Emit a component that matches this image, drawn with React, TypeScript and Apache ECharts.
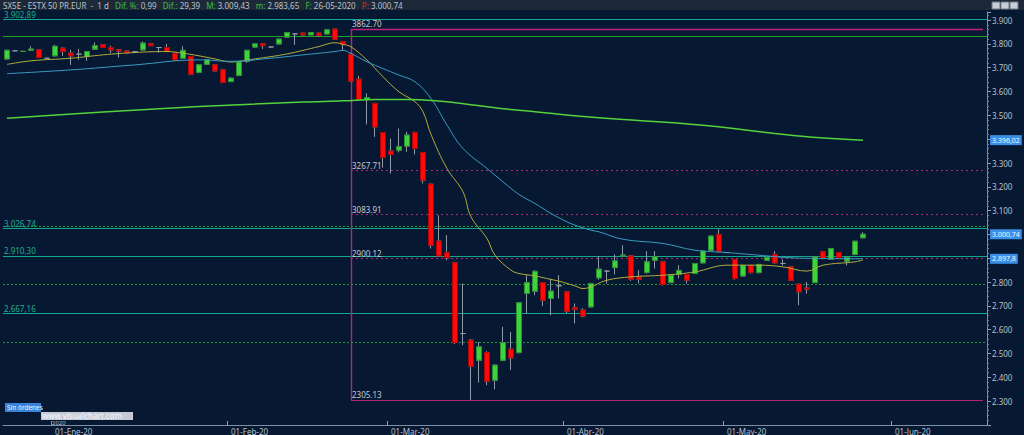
import React, { useEffect, useRef } from "react";
import * as echarts from "echarts";

// ---- trading days (day numbers per month) ----
const DAYS_DIC19 = [20, 23, 24, 27, 30, 31];
const DAYS_ENE20 = [2, 3, 6, 7, 8, 9, 10, 13, 14, 15, 16, 17, 20, 21, 22, 23, 24, 27, 28, 29, 30, 31];
const DAYS_FEB20 = [3, 4, 5, 6, 7, 10, 11, 12, 13, 14, 17, 18, 19, 20, 21, 24, 25, 26, 27, 28];
const DAYS_MAR20 = [2, 3, 4, 5, 6, 9, 10, 11, 12, 13, 16, 17, 18, 19, 20, 23, 24, 25, 26, 27, 30, 31];
const DAYS_ABR20 = [1, 2, 3, 6, 7, 8, 9, 14, 15, 16, 17, 20, 21, 22, 23, 24, 27, 28, 29, 30];
const DAYS_MAY20 = [1, 4, 5, 6, 7, 8, 11, 12, 13, 14, 15, 18, 19, 20, 21, 22, 25, 26, 27, 28, 29];
const DAYS_JUN20 = [1, 2, 3, 4, 5, 8, 9, 10, 11, 12, 15, 16];

const MONTH_LABELS = ["01-Ene-20", "01-Feb-20", "01-Mar-20", "01-Abr-20", "01-May-20", "01-Jun-20"];

// ---- OHLC (SX5E daily) ----
const OPEN = [3737, 3771, 3768, 3773, 3775, 3740, 3750, 3782, 3761, 3757, 3747, 3778, 3796, 3785, 3775, 3770, 3767, 3775, 3800, 3785, 3785, 3761, 3740, 3747, 3680, 3715, 3712, 3691, 3642, 3668, 3727, 3787, 3800, 3787, 3800, 3829, 3842, 3845, 3838, 3845, 3842, 3862, 3810, 3757, 3652, 3567, 3550, 3428, 3350, 3354, 3371, 3428, 3344, 3211, 2972, 2924, 2881, 2584, 2556, 2472, 2504, 2388, 2472, 2518, 2504, 2752, 2762, 2798, 2731, 2784, 2759, 2692, 2682, 2696, 2818, 2846, 2861, 2909, 2910, 2822, 2841, 2892, 2885, 2798, 2833, 2832, 2836, 2881, 2934, 3000, 2924, 2895, 2826, 2870, 2840, 2892, 2916, 2878, 2864, 2791, 2775, 2798, 2927, 2896, 2924, 2888, 2916, 2986];
const CLOSE = [3773, 3771, 3769, 3778, 3743, 3740, 3790, 3768, 3750, 3757, 3768, 3792, 3785, 3775, 3770, 3763, 3767, 3803, 3793, 3785, 3768, 3733, 3773, 3673, 3712, 3733, 3687, 3638, 3656, 3724, 3773, 3800, 3793, 3787, 3820, 3848, 3842, 3838, 3848, 3836, 3859, 3820, 3799, 3644, 3568, 3575, 3452, 3323, 3336, 3368, 3417, 3361, 3228, 2955, 2910, 2902, 2546, 2584, 2447, 2528, 2384, 2451, 2546, 2482, 2713, 2798, 2845, 2724, 2762, 2784, 2678, 2686, 2658, 2794, 2854, 2846, 2889, 2913, 2812, 2812, 2885, 2906, 2790, 2829, 2849, 2808, 2878, 2930, 2993, 2930, 2924, 2815, 2870, 2840, 2874, 2903, 2881, 2878, 2808, 2759, 2771, 2906, 2899, 2941, 2903, 2903, 2971.35, 3000.74];
const LOW = [3733, 3769, 3766, 3770, 3741, 3739, 3748, 3750, 3712, 3733, 3729, 3776, 3783, 3761, 3743, 3760, 3764, 3773, 3791, 3764, 3766, 3730, 3738, 3670, 3676, 3712, 3684, 3635, 3640, 3664, 3720, 3785, 3779, 3784, 3798, 3827, 3796, 3836, 3836, 3829, 3840, 3818, 3775, 3640, 3565, 3462, 3410, 3280, 3256, 3345, 3347, 3336, 3214, 2941, 2905, 2892, 2540, 2535, 2305.13, 2378, 2367, 2350, 2468, 2431, 2500, 2668, 2745, 2700, 2661, 2731, 2670, 2626, 2652, 2693, 2810, 2794, 2832, 2905, 2805, 2794, 2835, 2857, 2785, 2795, 2815, 2794, 2833, 2878, 2930, 2925, 2922, 2810, 2822, 2835, 2836, 2890, 2878, 2870, 2805, 2703, 2752, 2795, 2896, 2893, 2900, 2870, 2912, 2983.65];
const HIGH = [3776, 3773, 3771, 3790, 3777, 3741, 3796, 3785, 3775, 3779, 3770, 3806, 3798, 3793, 3777, 3773, 3770, 3810, 3801, 3786, 3799, 3763, 3790, 3749, 3714, 3736, 3714, 3693, 3660, 3726, 3775, 3802, 3802, 3789, 3822, 3850, 3844, 3846, 3850, 3847, 3861, 3862.7, 3812, 3760, 3666, 3592, 3553, 3430, 3403, 3445, 3431, 3432, 3346, 3213, 3081, 2997, 2884, 2794, 2560, 2549, 2510, 2455, 2612, 2591, 2716, 2829, 2850, 2800, 2815, 2829, 2762, 2710, 2690, 2797, 2910, 2850, 2916, 2955, 2912, 2850, 2930, 2930, 2888, 2832, 2871, 2834, 2880, 2933, 2996, 3022, 2926, 2897, 2873, 2873, 2877, 2905, 2930, 2895, 2866, 2793, 2801, 2908, 2930, 2944, 2926, 2906, 2974, 3009.43];

// ---- moving averages, read at selected sessions: [session index, value] ----
const MA_SHORT = [[0, 3714], [3, 3729], [8, 3740], [12, 3754], [16, 3764], [20, 3768], [22, 3761], [24, 3750], [26, 3737], [28, 3724], [29, 3727], [31, 3737], [35, 3758], [39, 3789], [41, 3805], [42, 3798], [43, 3788], [45, 3732], [47, 3662], [49, 3599], [51, 3557], [52, 3515], [53, 3420], [55, 3277], [57, 3179], [58, 3074], [60, 2983], [61, 2913], [63, 2850], [64, 2836], [66, 2826], [68, 2811], [69, 2804], [71, 2784], [72, 2773], [75, 2808], [78, 2822], [82, 2829], [86, 2843], [90, 2871], [94, 2871], [97, 2864], [100, 2846], [102, 2871], [106, 2885], [107, 2893]];
const MA_MID = [[0, 3675], [8, 3691], [16, 3712], [24, 3733], [28, 3727], [33, 3740], [37, 3754], [41, 3768], [42, 3773], [43, 3760], [45, 3725], [49, 3669], [51, 3641], [53, 3571], [55, 3459], [57, 3361], [60, 3277], [62, 3221], [64, 3168], [66, 3130], [68, 3088], [70, 3053], [71, 3039], [73, 3018], [74, 3011], [77, 2980], [82, 2962], [86, 2934], [90, 2924], [94, 2913], [98, 2902], [102, 2899], [107, 2897.8]];
const MA_LONG = [[0, 3488], [12, 3514], [24, 3537], [37, 3556], [42, 3561], [46, 3567], [50, 3567], [54, 3560], [58, 3545], [62, 3528], [66, 3515], [74, 3490], [87, 3459], [99, 3413], [107, 3396.02]];

// ---- horizontal levels ----
const TEAL_LEVELS = [3902.89, 3026.74, 2910.30, 2667.16];
const GREEN_SOLID_LEVEL = 3833;
const GREEN_DOTTED_LEVELS = [3036, 2792, 2546];
const FIB_HIGH = 3862.70;
const FIB_LOW = 2305.13;
const FIB_MID_LEVELS = [3267.71, 3083.91, 2900.12];
const FIB_START_INDEX = 43;

const LAST_CLOSE = 3000.74;
const LAST_MA_MID = 2897.8;
const LAST_MA_LONG = 3396.02;
// axis labels hidden behind the price tags in the reference
const COVERED_TICKS = [3400, 3000, 2900];

function esNum(v: number, dec: number) {
  const s = v.toFixed(dec);
  const [i, d] = s.split(".");
  const ii = i.replace(/\B(?=(\d{3})+(?!\d))/g, ".");
  return d ? ii + "," + d : ii;
}

export default function App() {
  const ref = useRef<HTMLDivElement>(null);
  useEffect(() => {
    if (!ref.current) return;
    const chart = echarts.init(ref.current, null, { renderer: "svg" });

    const months: [string, string, number[]][] = [
      ["Dic", "19", DAYS_DIC19],
      ["Ene", "20", DAYS_ENE20],
      ["Feb", "20", DAYS_FEB20],
      ["Mar", "20", DAYS_MAR20],
      ["Abr", "20", DAYS_ABR20],
      ["May", "20", DAYS_MAY20],
      ["Jun", "20", DAYS_JUN20],
    ];
    const dates: string[] = [];
    const monthStart: Record<number, string> = {};
    months.forEach(([m, y, days], mi) => {
      days.forEach((d, di) => {
        if (di === 0 && mi > 0) monthStart[dates.length] = MONTH_LABELS[mi - 1];
        dates.push(String(d).padStart(2, "0") + "-" + m + "-" + y);
      });
    });
    const lastIdx = dates.length - 1;

    const full = OPEN.map((o, i) => [o, CLOSE[i], LOW[i], HIGH[i]]);
    const bodies = OPEN.map((o, i) =>
      o === CLOSE[i] ? "-" : [o, CLOSE[i], Math.min(o, CLOSE[i]), Math.max(o, CLOSE[i])]
    );

    const lblFont = { fontFamily: "Noto Sans", fontSize: 8 };
    const tealLbl = (v: number) => ({
      show: true,
      position: "insideStartTop",
      distance: 1,
      color: "#1fae90",
      ...lblFont,
      formatter: esNum(v, 2),
    });
    const fibLbl = (v: number) => ({
      show: true,
      position: "insideStartTop",
      distance: 1,
      color: "#c3cad3",
      ...lblFont,
      formatter: v.toFixed(2),
    });
    const tag = (text: string) => ({
      show: true,
      position: "end",
      distance: 3,
      formatter: text,
      color: "#f2f6ff",
      backgroundColor: "#3a8ee6",
      padding: [2, 2, 1, 2],
      opacity: 1,
      fontFamily: "Noto Sans",
      fontSize: 7,
    });
    const hidden = { color: "rgba(0,0,0,0)", width: 0 };

    const markData: any[] = [];
    TEAL_LEVELS.forEach((v) =>
      markData.push({ yAxis: v, lineStyle: { color: "#14a88a", width: 1.2, type: "solid" }, label: tealLbl(v) })
    );
    markData.push({ yAxis: GREEN_SOLID_LEVEL, lineStyle: { color: "#22a322", width: 1.2, type: "solid" }, label: { show: false } });
    GREEN_DOTTED_LEVELS.forEach((v) =>
      markData.push({ yAxis: v, lineStyle: { color: "#1f9a32", width: 1, type: [2, 2] }, label: { show: false } })
    );
    const s = dates[FIB_START_INDEX];
    const e = dates[lastIdx];
    markData.push([
      { coord: [s, FIB_HIGH], lineStyle: { color: "#c0237f", width: 1.4, type: "solid" }, label: fibLbl(FIB_HIGH) },
      { coord: [e, FIB_HIGH] },
    ]);
    FIB_MID_LEVELS.forEach((v) =>
      markData.push([
        { coord: [s, v], lineStyle: { color: "#a82a7a", width: 1, type: [2, 3] }, label: fibLbl(v) },
        { coord: [e, v] },
      ])
    );
    markData.push([
      { coord: [s, FIB_LOW], lineStyle: { color: "#b81e72", width: 1.2, type: "solid" }, label: fibLbl(FIB_LOW) },
      { coord: [e, FIB_LOW] },
    ]);
    markData.push([
      { coord: [s, FIB_HIGH], lineStyle: { color: "#b8237c", width: 1.4, type: "solid" }, label: { show: false } },
      { coord: [s, FIB_LOW] },
    ]);

    const option: any = {
      animation: false,
      backgroundColor: "#061832",
      grid: { left: 3, right: 37, top: 12, bottom: 9 },
      xAxis: {
        type: "category",
        data: dates,
        boundaryGap: true,
        axisLine: { lineStyle: { color: "#7f90a6", width: 1 } },
        axisTick: {
          show: true,
          inside: true,
          length: 4,
          interval: (i: number) => monthStart[i] !== undefined,
          lineStyle: { color: "#8d9bb0" },
        },
        axisLabel: {
          show: true,
          interval: (i: number) => monthStart[i] !== undefined,
          formatter: (_v: string, i: number) => monthStart[i] || "",
          color: "#b7c0cc",
          align: "left",
          margin: 2,
          ...lblFont,
        },
        splitLine: { show: false },
      },
      yAxis: {
        type: "value",
        position: "right",
        min: 2200,
        max: 3934,
        interval: 100,
        axisLine: { show: true, lineStyle: { color: "#7f90a6" } },
        axisTick: { show: true, length: 4, lineStyle: { color: "#8d9bb0" } },
        minorTick: { show: true, splitNumber: 5, length: 2, lineStyle: { color: "#6f8098" } },
        splitLine: { show: false },
        axisLabel: {
          color: "#b7c0cc",
          margin: 5,
          showMaxLabel: false,
          ...lblFont,
          formatter: (v: number) =>
            v < 2300 || v > 3900 || COVERED_TICKS.indexOf(v) >= 0 ? "" : esNum(v, 0),
        },
      },
      series: [
        {
          name: "wicks",
          type: "candlestick",
          data: full,
          barWidth: 6,
          z: 2,
          itemStyle: {
            color: "transparent",
            color0: "transparent",
            borderColor: "#8e9aa8",
            borderColor0: "#8e9aa8",
            borderWidth: 1,
          },
          markLine: { symbol: "none", silent: true, animation: false, data: markData, z: 1 },
        },
        {
          name: "bodies",
          type: "candlestick",
          data: bodies,
          barWidth: 6,
          z: 3,
          itemStyle: {
            color: "#3fd43f",
            color0: "#ff0a0a",
            borderColor: "#2a8f2a",
            borderColor0: "#b30000",
            borderWidth: 1,
          },
          markLine: {
            symbol: "none",
            silent: true,
            animation: false,
            z: 6,
            data: [{ yAxis: LAST_CLOSE, lineStyle: hidden, label: tag(esNum(LAST_CLOSE, 2)) }],
          },
        },
        {
          name: "MA corta",
          type: "line",
          data: MA_SHORT,
          smooth: 0.4,
          showSymbol: false,
          z: 4,
          lineStyle: { color: "#b3ad3e", width: 1 },
        },
        {
          name: "MA media",
          type: "line",
          data: MA_MID,
          smooth: 0.4,
          showSymbol: false,
          z: 4,
          lineStyle: { color: "#3a9cc2", width: 1 },
          markLine: {
            symbol: "none",
            silent: true,
            animation: false,
            z: 6,
            data: [{ yAxis: LAST_MA_MID, lineStyle: hidden, label: tag(esNum(LAST_MA_MID, 1)) }],
          },
        },
        {
          name: "MA larga",
          type: "line",
          data: MA_LONG,
          smooth: 0.4,
          showSymbol: false,
          z: 4,
          lineStyle: { color: "#55d23c", width: 1.5 },
          markLine: {
            symbol: "none",
            silent: true,
            animation: false,
            z: 6,
            data: [{ yAxis: LAST_MA_LONG, lineStyle: hidden, label: tag(esNum(LAST_MA_LONG, 2)) }],
          },
        },
      ],
      graphic: [
        { type: "rect", shape: { x: 0, y: 0, width: 1024, height: 10 }, style: { fill: "#1d2938" }, z: 10 },
        {
          type: "text",
          x: 3,
          y: 1,
          z: 11,
          style: {
            text:
              "{w|SX5E - ESTX 50 PR.EUR  -  1 d}   {g|Dif. %:} {w|0,99}   {g|Dif.:} {w|29,39}   {g|M:} {w|3.009,43}   {g|m:} {w|2.983,65}   {g|F:} {w|26-05-2020}   {r|P:} {w|3.000,74}",
            fontFamily: "Noto Sans",
            fontSize: 8,
            rich: {
              w: { fill: "#b9c1cb", fontSize: 8, fontFamily: "Noto Sans" },
              g: { fill: "#39c23a", fontSize: 8, fontFamily: "Noto Sans" },
              r: { fill: "#e52222", fontSize: 8, fontFamily: "Noto Sans" },
            },
          },
        },
        { type: "rect", shape: { x: 992, y: 2, width: 8, height: 7 }, style: { fill: "#c9ced6", stroke: "#6f7885" }, z: 11 },
        { type: "rect", shape: { x: 1001, y: 2, width: 8, height: 7 }, style: { fill: "#c9ced6", stroke: "#6f7885" }, z: 11 },
        { type: "rect", shape: { x: 1010, y: 2, width: 8, height: 7 }, style: { fill: "#c9ced6", stroke: "#6f7885" }, z: 11 },
        { type: "rect", shape: { x: 5, y: 403, width: 36, height: 9 }, style: { fill: "#3a83d8" }, z: 11 },
        {
          type: "text",
          x: 7,
          y: 404,
          z: 12,
          style: { text: "Sin órdenes", fill: "#eef4ff", fontSize: 6.5, fontFamily: "Noto Sans" },
        },
        { type: "rect", shape: { x: 41, y: 412, width: 92, height: 8 }, style: { fill: "#c6cad6" }, z: 11 },
        {
          type: "text",
          x: 42,
          y: 411.5,
          z: 12,
          style: { text: "www.visualchart.com", fill: "#f4f6fa", fontSize: 8, fontFamily: "Noto Sans" },
        },
        {
          type: "text",
          x: 52,
          y: 420,
          z: 10,
          style: { text: "2020", fill: "#b7c0cc", fontSize: 6, fontFamily: "Noto Sans" },
        },
      ],
    };
    chart.setOption(option);
    return () => chart.dispose();
  }, []);

  return (
    <div
      ref={ref}
      style={{ position: "fixed", left: 0, top: 0, width: 1024, height: 435, background: "#061832" }}
    />
  );
}
